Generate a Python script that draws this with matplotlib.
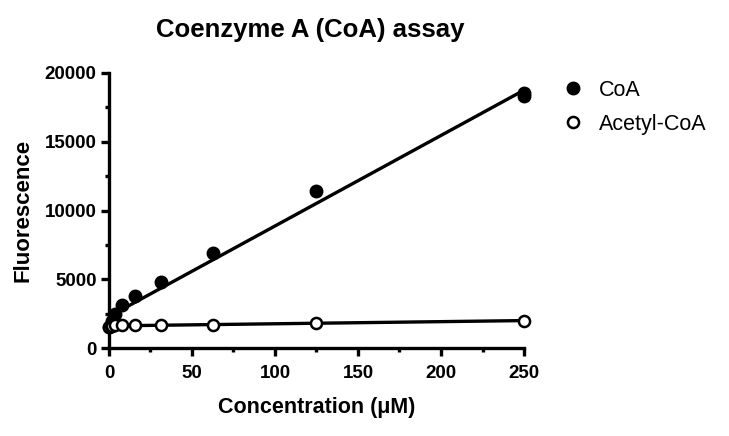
import numpy as np
import matplotlib
matplotlib.use("Agg")
import matplotlib.pyplot as plt
from matplotlib.ticker import MultipleLocator

plt.rcParams['font.family'] = ['Liberation Sans', 'DejaVu Sans']

# concentrations in uM (2-fold dilutions)
conc = [0, 0.98, 1.95, 3.9, 7.8, 15.6, 31.25, 62.5, 125, 250, 250]
coa = [1500, 1700, 2000, 2500, 3100, 3750, 4800, 6900, 11400, 18550, 18300]
acetyl_conc = [0, 0.98, 1.95, 3.9, 7.8, 15.6, 31.25, 62.5, 125, 250]
acetyl = [1500, 1600, 1600, 1650, 1700, 1650, 1700, 1650, 1800, 2000]

fig = plt.figure(figsize=(7.29, 4.36), dpi=100)
ax = fig.add_axes([0.1495, 0.2018, 0.5693, 0.6308])

# linear fits
xs = np.array([0, 250])
k1 = np.polyfit(conc, coa, 1)
k2 = np.polyfit(acetyl_conc, acetyl, 1)
ax.plot(xs, np.polyval(k1, xs), color='k', lw=2.4, zorder=2)
ax.plot(xs, np.polyval(k2, xs), color='k', lw=2.4, zorder=2)

ax.plot(conc, coa, 'o', color='k', ms=9, zorder=3, label='CoA', clip_on=False)
ax.plot(acetyl_conc, acetyl, 'o', mfc='white', mec='k', mew=1.8, ms=8,
        zorder=3, label='Acetyl-CoA', clip_on=False)

ax.set_xlim(0, 250)
ax.set_ylim(0, 20000)
ax.xaxis.set_major_locator(MultipleLocator(50))
ax.xaxis.set_minor_locator(MultipleLocator(25))
ax.yaxis.set_major_locator(MultipleLocator(5000))
ax.yaxis.set_minor_locator(MultipleLocator(2500))
for s in ['top', 'right']:
    ax.spines[s].set_visible(False)
for s in ['left', 'bottom']:
    ax.spines[s].set_linewidth(2.4)
ax.tick_params(which='major', length=6, width=2.4, labelsize=13.5, pad=3)
ax.tick_params(axis='x', which='major', pad=6)
ax.tick_params(which='minor', length=3, width=2.4)
for lab in ax.get_xticklabels() + ax.get_yticklabels():
    lab.set_fontweight('bold')

ax.set_xlabel('Concentration (\u03bcM)', fontsize=15.5, fontweight='bold', labelpad=11)
ax.set_ylabel('Fluorescence', fontsize=16, fontweight='bold', labelpad=8)
ax.set_title('Coenzyme A (CoA) assay', fontsize=18.5, fontweight='bold', pad=26, x=0.485)

ax.legend(loc='upper left', bbox_to_anchor=(1.04, 1.045), frameon=False,
          fontsize=15.5, handletextpad=0.6, labelspacing=0.6, handlelength=1.2)

fig.savefig('out.png', dpi=100)
